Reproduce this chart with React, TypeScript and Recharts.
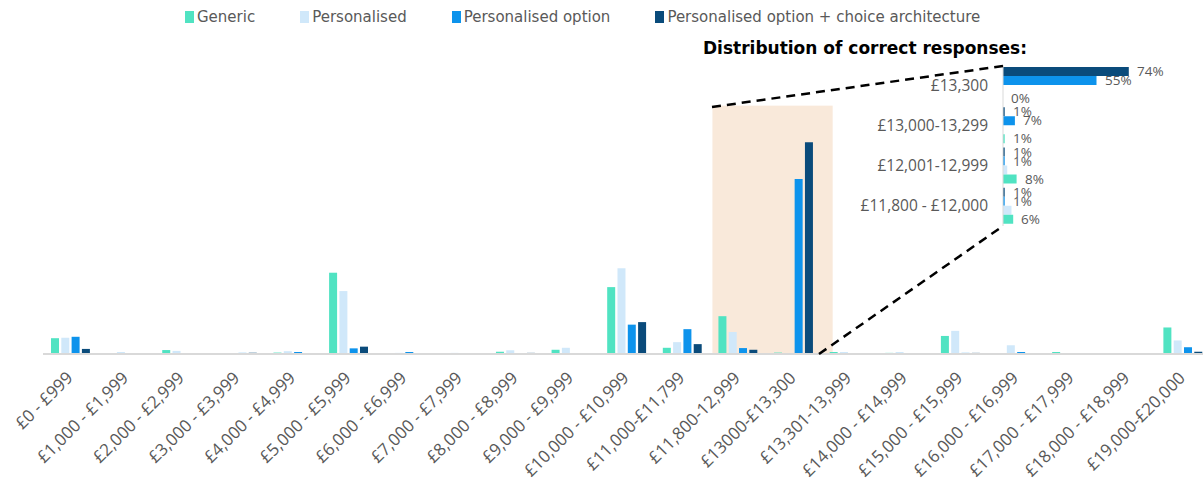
import React from 'react';
import { BarChart, Bar, XAxis, YAxis, ReferenceArea, LabelList } from 'recharts';

// salary bands on the main axis
const salaryBands = [
  '£0 - £999', '£1,000 - £1,999', '£2,000 - £2,999', '£3,000 - £3,999', '£4,000 - £4,999',
  '£5,000 - £5,999', '£6,000 - £6,999', '£7,000 - £7,999', '£8,000 - £8,999', '£9,000 - £9,999',
  '£10,000 - £10,999', '£11,000-£11,799', '£11,800-12,999', '£13000-£13,300', '£13,301-13,999',
  '£14,000 - £14,999', '£15,000 - £15,999', '£16,000 - £16,999', '£17,000 - £17,999',
  '£18,000 - £18,999', '£19,000-£20,000',
];

// share of responses per band (%)
const genericShare = [5.6, 0, 1.4, 0, 0.5, 28.8, 0, 0, 0.8, 1.5, 23.7, 2.2, 13.4, 0.5, 0.7, 0.4, 6.4, 0, 0.7, 0, 9.4];
const personalisedShare = [5.8, 0.7, 1.1, 0, 1.0, 22.3, 0.4, 0.4, 1.3, 2.2, 30.4, 4.2, 7.8, 0.3, 0.7, 0.7, 8.2, 3.1, 0, 0, 4.8];
const optionShare = [6.1, 0, 0, 0.4, 0.7, 2.0, 0.7, 0, 0, 0, 10.4, 8.8, 2.1, 62, 0, 0, 0.4, 0.7, 0, 0, 2.4];
const choiceShare = [1.8, 0, 0, 0.4, 0, 2.6, 0, 0, 0.4, 0, 11.3, 3.5, 1.5, 75, 0, 0, 0.4, 0, 0, 0, 0.8];

// zoomed-in breakdown around the correct answer
const zoomBands = ['£13,300', '£13,000-13,299', '£12,001-12,999', '£11,800 - £12,000'];
const zoomGeneric = [0, 1, 8, 6];
const zoomPersonalised = [0, 0, 2.5, 5];
const zoomOption = [55, 7, 1, 1];
const zoomChoice = [74, 1, 1, 1];

const highlightFrom = '£11,800-12,999';
const highlightTo = '£13000-£13,300';

const series = [
  { key: 'generic', name: 'Generic', color: '#50E3C2' },
  { key: 'personalised', name: 'Personalised', color: '#D0E8FA' },
  { key: 'option', name: 'Personalised option', color: '#0D93EC' },
  { key: 'choice', name: 'Personalised option + choice architecture', color: '#0A4B7B' },
];

const mainData = salaryBands.map((band, i) => ({
  band,
  generic: genericShare[i],
  personalised: personalisedShare[i],
  option: optionShare[i],
  choice: choiceShare[i],
}));

const zoomData = zoomBands.map((band, i) => ({
  band,
  generic: zoomGeneric[i],
  personalised: zoomPersonalised[i],
  option: zoomOption[i],
  choice: zoomChoice[i],
}));

const GREY = '#595959';
const TICK_FONT = '"Open Sans", sans-serif';

// layout
const MAIN_LEFT = 43;
const MAIN_TOP = 100;
const MAIN_W = 1211;
const BASELINE = 354;
const INSET_LEFT = 860;
const INSET_TOP = 60;
const INSET_AXIS_W = 143;
const INSET_H = 171;
const INSET_PAD = 5;

const AngledTick = (props: any) => {
  const { x, y, payload } = props;
  return (
    <g transform={`translate(${x + 3},${y + 17}) rotate(-45)`}>
      <text x={0} y={0} textAnchor="end" fill={GREY} fontSize={17} fontFamily={TICK_FONT}>
        {payload.value}
      </text>
    </g>
  );
};

// value labels next to the zoomed bars
const ZoomLabel = (props: any) => {
  const { x, y, width, height, value } = props;
  if (value == null) return null;
  return (
    <text
      x={Number(x) + Math.round(Number(width || 0)) + 8}
      y={Number(y) + Number(height) / 2}
      dy="0.35em"
      fill={GREY}
      fontSize={13.5}
      fontFamily={TICK_FONT}
    >
      {`${value}%`}
    </text>
  );
};

export default function App() {
  const dashTopStart = { x: 712, y: 107 };
  const dashBottomStart = { x: 819, y: BASELINE };
  const insetAxisX = INSET_LEFT + INSET_AXIS_W;

  return (
    <div
      style={{
        position: 'fixed',
        left: 0,
        top: 0,
        width: 1203,
        height: 483,
        overflow: 'hidden',
        background: '#fff',
      }}
    >
      {/* legend */}
      <div
        style={{
          position: 'absolute',
          top: 8,
          left: 185,
          display: 'flex',
          alignItems: 'center',
          fontFamily: '"DejaVu Sans", sans-serif',
          fontSize: 15,
          color: GREY,
          whiteSpace: 'nowrap',
        }}
      >
        {series.map((s) => (
          <div key={s.key} style={{ display: 'flex', alignItems: 'center', marginRight: 45 }}>
            <span style={{ display: 'inline-block', width: 9, height: 12, background: s.color, marginRight: 3 }} />
            <span>{s.name}</span>
          </div>
        ))}
      </div>

      <div style={{ position: 'absolute', left: 0, top: 0 }}>
        <BarChart
          width={MAIN_W}
          height={483}
          data={mainData}
          margin={{ top: MAIN_TOP, right: 0, bottom: 0, left: MAIN_LEFT }}
          barSize={8}
          barGap={2.3}
        >
          <XAxis
            dataKey="band"
            interval={0}
            height={483 - BASELINE}
            tickLine={false}
            axisLine={{ stroke: '#D9D9D9', strokeWidth: 2 }}
            tick={<AngledTick />}
          />
          <YAxis hide domain={[0, 90]} />
          <ReferenceArea
            x1={highlightFrom}
            x2={highlightTo}
            y1={0}
            y2={88}
            shape={(p: any) => (
              <rect x={p.x + 2} y={p.y} width={p.width + 9} height={p.height} fill="#F9E9DA" />
            )}
          />
          {series.map((s) => (
            <Bar key={s.key} dataKey={s.key} name={s.name} fill={s.color} isAnimationActive={false} />
          ))}
        </BarChart>
      </div>

      <div
        style={{
          position: 'absolute',
          left: 703,
          top: 38,
          fontFamily: '"DejaVu Sans", sans-serif',
          fontWeight: 'bold',
          fontSize: 17,
          color: '#000',
          whiteSpace: 'nowrap',
        }}
      >
        Distribution of correct responses:
      </div>

      <div style={{ position: 'absolute', left: INSET_LEFT, top: INSET_TOP }}>
        <BarChart
          layout="vertical"
          width={1203 - INSET_LEFT}
          height={INSET_H}
          data={zoomData}
          margin={{ top: INSET_PAD, right: 30, bottom: INSET_PAD, left: 0 }}
          barSize={9}
          barGap={0}
        >
          <XAxis type="number" hide domain={[0, 100]} />
          <YAxis
            type="category"
            dataKey="band"
            width={INSET_AXIS_W}
            tickLine={false}
            tickMargin={9}
            axisLine={{ stroke: '#D9D9D9' }}
            tick={{ fill: GREY, fontSize: 15.5, fontFamily: TICK_FONT }}
          />
          <Bar dataKey="choice" fill="#0A4B7B" isAnimationActive={false}>
            <LabelList dataKey="choice" content={<ZoomLabel />} />
          </Bar>
          <Bar dataKey="option" fill="#0D93EC" isAnimationActive={false}>
            <LabelList dataKey="option" content={<ZoomLabel />} />
          </Bar>
          <Bar dataKey="personalised" fill="#D0E8FA" isAnimationActive={false} />
          {/* keep zero-length bars so their 0% label still shows */}
          <Bar dataKey="generic" fill="#50E3C2" minPointSize={0.01} isAnimationActive={false}>
            <LabelList dataKey="generic" content={<ZoomLabel />} />
          </Bar>
        </BarChart>
      </div>

      {/* connector lines from the highlighted bands to the zoomed panel */}
      <svg
        width={1203}
        height={483}
        style={{ position: 'absolute', left: 0, top: 0, pointerEvents: 'none' }}
      >
        <line
          x1={dashTopStart.x}
          y1={dashTopStart.y}
          x2={insetAxisX}
          y2={INSET_TOP + INSET_PAD + 1}
          stroke="#000"
          strokeWidth={2.5}
          strokeDasharray="9 6"
        />
        <line
          x1={dashBottomStart.x}
          y1={dashBottomStart.y}
          x2={insetAxisX}
          y2={INSET_TOP + INSET_H - INSET_PAD}
          stroke="#000"
          strokeWidth={2.5}
          strokeDasharray="9 6"
        />
      </svg>
    </div>
  );
}
